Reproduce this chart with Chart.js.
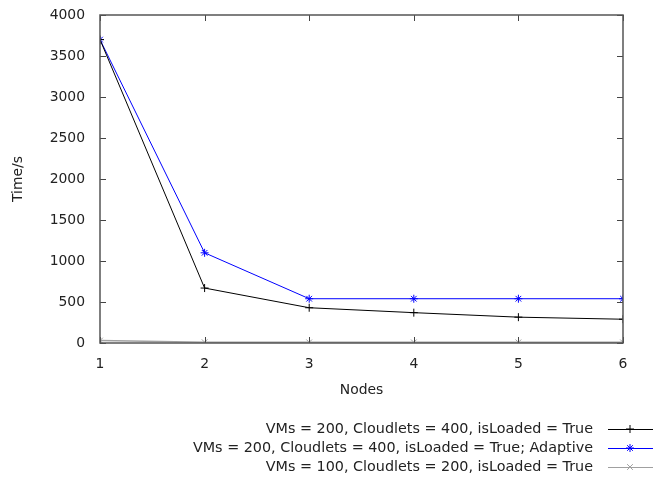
<!DOCTYPE html>
<html><head><meta charset="utf-8">
<script src="https://cdn.jsdelivr.net/npm/chart.js@4/dist/chart.umd.min.js"></script>
<style>html,body{margin:0;padding:0;background:#fff}#wrap{width:653px;height:478px}</style>
</head><body><div id="wrap"><canvas id="c" width="653" height="478"></canvas></div>
<script>
const nodes = [1, 2, 3, 4, 5, 6];
const loaded400 = [3700, 670, 430, 370, 315, 290];
const adaptive400 = [3700, 1100, 540, 540, 540, 540];
const loaded200 = [30, 10, 8, 8, 8, 8];
const seriesLabels = [
  "VMs = 200, Cloudlets = 400, isLoaded = True",
  "VMs = 200, Cloudlets = 400, isLoaded = True; Adaptive",
  "VMs = 100, Cloudlets = 200, isLoaded = True"
];
const yTicks = [0, 500, 1000, 1500, 2000, 2500, 3000, 3500, 4000];
const xTitle = 'Nodes';
const yTitle = 'Time/s';
const FONT = "'DejaVu Sans', sans-serif";
const FS = 13.9;
const LFS = 14.35;

const frame = {
  id: 'frame',
  afterDatasetsDraw(chart) {
    const {ctx, chartArea: a, scales: {x, y}} = chart;
    ctx.save();
    ctx.strokeStyle = '#444';
    ctx.lineWidth = 1;
    ctx.beginPath();
    yTicks.forEach(v => {
      const py = Math.round(y.getPixelForValue(v)) + 0.5;
      ctx.moveTo(a.left, py); ctx.lineTo(a.left + 6, py);
      ctx.moveTo(a.right, py); ctx.lineTo(a.right - 6, py);
    });
    nodes.forEach(v => {
      const px = Math.round(x.getPixelForValue(v)) + 0.5;
      ctx.moveTo(px, a.bottom); ctx.lineTo(px, a.bottom - 6);
      ctx.moveTo(px, a.top); ctx.lineTo(px, a.top + 6);
    });
    ctx.stroke();
    ctx.strokeStyle = '#555';
    ctx.lineWidth = 1.5;
    ctx.strokeRect(a.left, a.top, a.right - a.left, a.bottom - a.top);
    ctx.font = FS + 'px ' + FONT;
    ctx.fillStyle = '#222';
    ctx.textBaseline = 'middle';
    // axis titles
    ctx.textAlign = 'center';
    ctx.fillText(xTitle, (a.left + a.right) / 2, 390);
    ctx.save();
    ctx.translate(18, (a.top + a.bottom) / 2);
    ctx.rotate(-Math.PI / 2);
    ctx.fillText(yTitle, 0, 0);
    ctx.restore();
    // legend
    ctx.font = LFS + 'px ' + FONT;
    ctx.textAlign = 'right';
    chart.data.datasets.forEach((ds, i) => {
      const ly = 429 + i * 19;
      ctx.fillStyle = '#222';
      ctx.fillText(seriesLabels[i], 593, ly);
      ctx.strokeStyle = ds.borderColor;
      ctx.fillStyle = ds.borderColor;
      ctx.lineWidth = 1;
      ctx.beginPath(); ctx.moveTo(608, ly + 0.5); ctx.lineTo(653, ly + 0.5); ctx.stroke();
      Chart.helpers.drawPoint(ctx, {pointStyle: ds.pointStyle, radius: 4, rotation: 0, borderWidth: 1}, 630, ly);
    });
    ctx.restore();
  }
};

new Chart(document.getElementById('c'), {
  type: 'line',
  data: {
    labels: nodes,
    datasets: [
      {label: seriesLabels[0], data: loaded400, borderColor: '#000000', backgroundColor: '#000000', pointStyle: 'cross', pointRadius: 4, borderWidth: 1, pointBorderWidth: 1},
      {label: seriesLabels[1], data: adaptive400, borderColor: '#0000ff', backgroundColor: '#0000ff', pointStyle: 'star', pointRadius: 4, borderWidth: 1, pointBorderWidth: 1},
      {label: seriesLabels[2], data: loaded200, borderColor: '#a0a0a0', backgroundColor: '#a0a0a0', pointStyle: 'crossRot', pointRadius: 4, borderWidth: 1.5, pointBorderWidth: 1}
    ]
  },
  options: {
    responsive: false,
    animation: false,
    layout: {padding: {left: 0, right: 30, top: 15, bottom: 0}},
    plugins: {legend: {display: false}, tooltip: {enabled: false}},
    scales: {
      x: {
        type: 'linear', min: 1, max: 6,
        grid: {display: false, drawTicks: false},
        border: {display: false},
        afterFit: s => { s.height = 135; s.paddingLeft = 0; s.paddingRight = 0; },
        afterBuildTicks: s => { s.ticks = nodes.map(v => ({value: v})); },
        ticks: {color: '#222', font: {family: FONT, size: FS}, padding: 13, callback: v => String(v)}
      },
      y: {
        min: 0, max: 4000,
        grid: {display: false, drawTicks: false},
        border: {display: false},
        afterFit: s => { s.width = 100; s.paddingTop = 0; s.paddingBottom = 0; },
        afterBuildTicks: s => { s.ticks = yTicks.map(v => ({value: v})); },
        ticks: {color: '#222', font: {family: FONT, size: FS}, padding: 15, callback: v => String(v)}
      }
    }
  },
  plugins: [frame]
});
</script></body></html>
